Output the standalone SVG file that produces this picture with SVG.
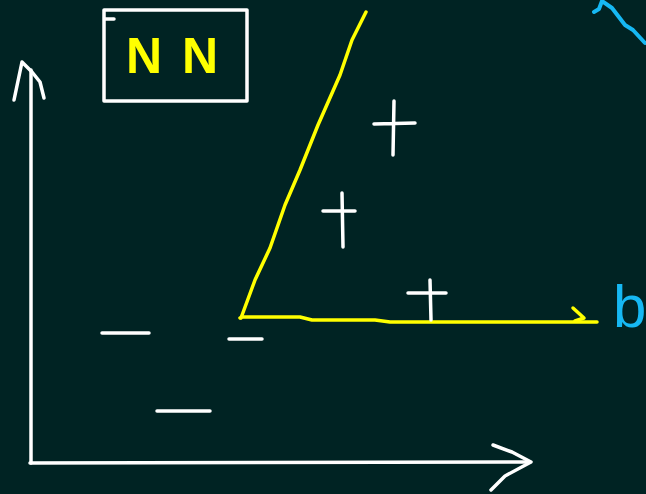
<svg xmlns="http://www.w3.org/2000/svg" width="646" height="494" viewBox="0 0 646 494">
<style>
.w{fill:none;stroke:#ffffff;stroke-width:3.5;stroke-linecap:round;stroke-linejoin:round}
.y{fill:none;stroke:#ffff00;stroke-width:3.5;stroke-linecap:round;stroke-linejoin:round}
.c{fill:none;stroke:#16b8f3;stroke-width:4;stroke-linecap:round;stroke-linejoin:round}
.t{font-family:"Liberation Sans",Arial,sans-serif}
</style>
<rect width="646" height="494" fill="#002323"/>
<g id="axes">
<path class="w" d="M31,70 L31,463"/>
<path class="w" d="M14,100 L22,62 L32,72 L40,82 L44,98"/>
<path class="w" d="M30,463 L530,462"/>
<path class="w" d="M493,445 L512,452 L531,462 L505,476 L491,490"/>
</g>
<g id="nn-box">
<rect x="104" y="10" width="143" height="91" class="w" stroke-width="3"/>
<path class="w" d="M105,19 L114,19" stroke-width="3"/>
<text x="126" y="73" class="t" font-size="50" font-weight="bold" fill="#ffff00" letter-spacing="20">NN</text>
</g>
<g id="boundary">
<path class="y" d="M241,318 L255,280 L270,248 L285,205 L300,170 L318,125 L340,75 L352,40 L366,12"/>
<path class="y" d="M240,318 L242,317 L300,317 L312,320 L375,320 L390,322 L597,322"/>
<path class="y" d="M573,308 L584,318 L575,321"/>
</g>
<g id="label-b">
<text x="613" y="327" class="t" font-size="60" fill="#16b8f3">b</text>
</g>
<g id="corner-mark">
<path class="c" d="M594,12 L599,9 L602,1 L612,8 L625,25 L633,30 L645,43"/>
</g>
<g id="plus-points">
<path class="w" d="M374,124 L415,123 M394,101 L393,155"/>
<path class="w" d="M323,211 L355,211 M342,193 L343,247"/>
<path class="w" d="M408,293 L446,293 M430,280 L431,320"/>
</g>
<g id="minus-points">
<path class="w" d="M102,333 L149,333"/>
<path class="w" d="M229,339 L262,339"/>
<path class="w" d="M157,411 L210,411"/>
</g>
</svg>
